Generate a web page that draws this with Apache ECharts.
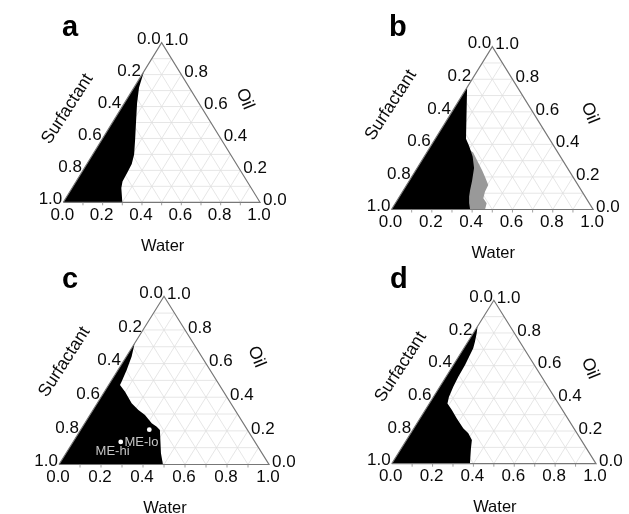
<!DOCTYPE html>
<html>
<head>
<meta charset="utf-8">
<script src="https://cdn.jsdelivr.net/npm/echarts@6/dist/echarts.min.js"></script>
<style>
  html, body { margin: 0; padding: 0; background: #fff; }
  #chart { width: 629px; height: 514px; }
</style>
</head>
<body>
<div id="chart"></div>
<script>
// tick values and labels shared by the three ternary axes
const ticks = [0, 0.2, 0.4, 0.6, 0.8, 1.0]
const tickLabels = ['0.0', '0.2', '0.4', '0.6', '0.8', '1.0']
const gridSteps = [0.1, 0.2, 0.3, 0.4, 0.5, 0.6, 0.7, 0.8, 0.9]
const panelNames = ['a', 'b', 'c', 'd']

// phase boundaries, points as [water, oil] (surfactant = 1 - water - oil)
const regionA = [[0, 0], [0, 0.82], [0.025, 0.72], [0.065, 0.62], [0.115, 0.51], [0.17, 0.39],
  [0.21, 0.30], [0.228, 0.24], [0.232, 0.19], [0.236, 0.13], [0.25, 0.09], [0.275, 0.045], [0.30, 0]]
const regionB = [[0, 0], [0, 0.75], [0.152, 0.435], [0.19, 0.39], [0.24, 0.325], [0.282, 0.255],
  [0.312, 0.175], [0.33, 0.12], [0.345, 0.08], [0.365, 0.04], [0.39, 0]]
const regionBGray = [[0, 0], [0, 0.5], [0.23, 0.35], [0.33, 0.24], [0.363, 0.201], [0.405, 0.15],
  [0.409, 0.109], [0.421, 0.069], [0.453, 0.038], [0.464, 0]]
const regionC = [[0, 0], [0, 0.72], [0.025, 0.642], [0.041, 0.5625], [0.052, 0.493], [0.054, 0.473],
  [0.098, 0.433], [0.164, 0.364], [0.216, 0.324], [0.262, 0.295], [0.319, 0.245], [0.353, 0.225],
  [0.378, 0.205], [0.452, 0.067], [0.495, 0]]
const regionD = [[0, 0], [0, 0.84], [0.017, 0.798], [0.034, 0.747], [0.046, 0.706], [0.057, 0.604],
  [0.060, 0.532], [0.066, 0.471], [0.076, 0.408], [0.089, 0.368], [0.13, 0.329], [0.179, 0.278],
  [0.2415, 0.217], [0.282, 0.186], [0.32, 0.145], [0.341, 0.094], [0.383, 0]]

// microemulsion formulations in panel c
const mePoints = [[0.3265, 0.207], [0.227, 0.134]]
const meNames = ['ME-lo', 'ME-hi']

const FONT = '"Liberation Sans", Arial, Helvetica, sans-serif'

// layout of the four panels (pixel boxes of the triangles, label offsets)
const panels = [
  { grid: { left: 63.3, top: 42.7, width: 196.7, height: 159.6 },
    regions: [{ pts: regionA, color: '#000' }],
    surf: [-45, -13.5], oil: [34, -23.5], title: [62, 13] },
  { grid: { left: 391.5, top: 46.7, width: 201.6, height: 162.8 },
    regions: [{ pts: regionBGray, color: '#999' }, { pts: regionB, color: '#000' }],
    surf: [-51, -23], oil: [47, -15], title: [389, 13] },
  { grid: { left: 59, top: 296.3, width: 210, height: 168.2 },
    regions: [{ pts: regionC, color: '#000' }],
    surf: [-47, -18.5], oil: [40, -23.5], title: [62, 265], me: true },
  { grid: { left: 391.7, top: 300.3, width: 204.3, height: 163.4 },
    regions: [{ pts: regionD, color: '#000' }],
    surf: [-42, -15], oil: [45, -13.5], title: [390, 265] }
]

const chart = echarts.init(document.getElementById('chart'))

// ternary (water, oil) -> cartesian value -> pixel through the axes
const pt = (api, w, o) => api.coord([w + o / 2, o])

const seg = (a, b, stroke, lw) => ({
  type: 'line',
  shape: { x1: a[0], y1: a[1], x2: b[0], y2: b[1] },
  style: { stroke: stroke, lineWidth: lw }
})

const txt = (x, y, text, align, opts) => ({
  type: 'text',
  x: x, y: y,
  rotation: (opts && opts.rot) || 0,
  style: {
    text: text,
    fill: (opts && opts.color) || '#0a0a0a',
    font: ((opts && opts.size) || 17) + 'px ' + FONT,
    align: align,
    verticalAlign: 'middle'
  }
})

const makeRender = (p) => (params, api) => {
  const kids = []
  // light grid every 0.1 in the three directions
  gridSteps.forEach(g => {
    kids.push(seg(pt(api, 0, g), pt(api, 1 - g, g), '#e0e0e0', 0.8))
    kids.push(seg(pt(api, g, 0), pt(api, g, 1 - g), '#e0e0e0', 0.8))
    kids.push(seg(pt(api, 1 - g, 0), pt(api, 0, 1 - g), '#e0e0e0', 0.8))
  })
  // phase regions
  p.regions.forEach(r => {
    kids.push({
      type: 'polygon',
      shape: { points: r.pts.map(d => pt(api, d[0], d[1])) },
      style: { fill: r.color }
    })
  })
  // triangle frame
  kids.push({
    type: 'polyline',
    shape: { points: [pt(api, 0, 0), pt(api, 1, 0), pt(api, 0, 1), pt(api, 0, 0)] },
    style: { stroke: '#777', lineWidth: 1.2, fill: null }
  })
  // bottom minor ticks
  gridSteps.forEach(g => {
    const b = pt(api, g, 0)
    kids.push(seg(b, [b[0], b[1] + 3], '#888', 0.8))
  })
  // tick labels on the three sides
  ticks.forEach((v, i) => {
    const L = pt(api, 0, 1 - v)
    kids.push(txt(L[0] - 1, L[1] - 3, tickLabels[i], 'right'))
    const R = pt(api, 1 - v, v)
    kids.push(txt(R[0] + 3, R[1] - 2, tickLabels[i], 'left'))
    const B = pt(api, v, 0)
    kids.push(txt(B[0] - 1, B[1] + 13, tickLabels[i], 'center'))
  })
  // axis names
  const bl = pt(api, 0, 0), br = pt(api, 1, 0), top = pt(api, 0, 1)
  kids.push(txt((bl[0] + br[0]) / 2 + 1, bl[1] + 44, 'Water', 'center', { size: 16.5 }))
  const lm = [(bl[0] + top[0]) / 2, (bl[1] + top[1]) / 2]
  kids.push(txt(lm[0] + p.surf[0], lm[1] + p.surf[1], 'Surfactant', 'center', { rot: 57 * Math.PI / 180, size: 17.5 }))
  const rm = [(br[0] + top[0]) / 2, (br[1] + top[1]) / 2]
  kids.push(txt(rm[0] + p.oil[0], rm[1] + p.oil[1], 'Oil', 'center', { rot: -68 * Math.PI / 180, size: 17.5 }))
  // ME formulations
  if (p.me) {
    const offs = [[-7.8, 12.3], [-8.2, 9.5]]
    mePoints.forEach((m, i) => {
      const c = pt(api, m[0], m[1])
      kids.push({ type: 'circle', shape: { cx: c[0], cy: c[1], r: 2.4 }, style: { fill: '#fff' } })
      kids.push(txt(c[0] + offs[i][0], c[1] + offs[i][1], meNames[i], 'center', { size: 13, color: '#c4c4c4' }))
    })
  }
  return { type: 'group', children: kids }
}

chart.setOption({
  animation: false,
  title: panels.map((p, i) => ({
    text: panelNames[i],
    left: p.title[0],
    top: p.title[1],
    padding: 0,
    textStyle: { fontSize: 29, fontWeight: 'bold', color: '#000', fontFamily: FONT }
  })),
  grid: panels.map(p => Object.assign({ outerBoundsMode: 'none', containLabel: false }, p.grid)),
  xAxis: panels.map((p, i) => ({ type: 'value', gridIndex: i, min: 0, max: 1, show: false })),
  yAxis: panels.map((p, i) => ({ type: 'value', gridIndex: i, min: 0, max: 1, show: false })),
  series: panels.map((p, i) => ({
    type: 'custom',
    xAxisIndex: i,
    yAxisIndex: i,
    clip: false,
    silent: true,
    data: [[0, 0]],
    renderItem: makeRender(p)
  }))
})
</script>
</body>
</html>
